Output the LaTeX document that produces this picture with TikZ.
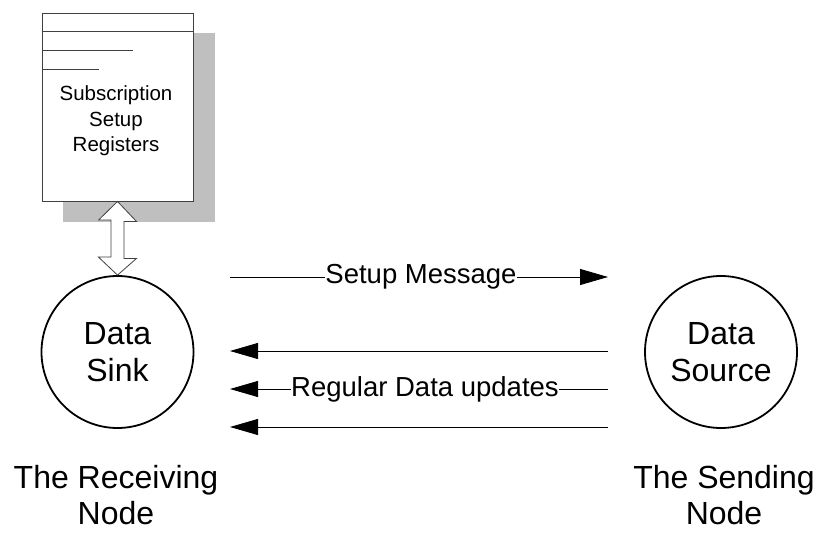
\documentclass[tikz,border=0pt]{standalone}
\usepackage{fontspec}
\setmainfont{Liberation Sans}
\usetikzlibrary{arrows.meta,calc}
\tikzset{
  regbox/.style={draw=black!75, line width=0.9pt, fill=white, minimum width=151pt, minimum height=188pt, inner sep=0pt},
  shadowbox/.style={fill=black!25, draw=none},
  endpoint/.style={draw, line width=1.8pt, circle, minimum size=152pt, inner sep=0pt, align=center, font=\fontsize{32}{37}\selectfont},
  caption/.style={align=center, inner sep=0pt, font=\fontsize{32}{36}\selectfont},
  msg/.style={line width=0.9pt, -{Triangle[length=28pt,width=16pt]}},
  msglabel/.style={fill=white, inner sep=0.5pt, font=\fontsize{27.5}{30}\selectfont},
  dblarrow/.style={draw=black!75, line width=0.8pt, fill=white}
}
\begin{document}
\begin{tikzpicture}[x=1pt,y=-1pt]
\useasboundingbox (0,0) rectangle (818,534);
% shadow
\fill[shadowbox] (63,33) rectangle (215,222);
% register box
\node[regbox] (reg) at (117.5,107) {};
\draw[draw=black!75, line width=0.9pt] (reg.north west) ++(0,19) -- ++(151,0);
\draw[draw=black!75, line width=0.9pt] (reg.north west) ++(0,38) -- ++(91,0);
\draw[draw=black!75, line width=0.9pt] (reg.north west) ++(0,57) -- ++(57,0);
\node[align=center, font=\fontsize{20.5}{25.5}\selectfont] (regtext) at (116,121) {Subscription\\Setup\\Registers};
% circles
\node[endpoint] (sink) at (117.5,352) {Data\\Sink};
\node[endpoint] (source) at (721,352) {Data\\Source};
% captions
\node[caption] (reccap) at (116,495) {The Receiving\\Node};
\node[caption] (sendcap) at (724,495) {The Sending\\Node};
% double arrow between register box and sink
\draw[dblarrow] (reg.south) -- ++(19,20) -- ++(-12.5,0) -- ++(0,37) -- ++(12.5,0) -- (sink.north)
  -- ++(-19,-18) -- ++(12.5,0) -- ++(0,-37) -- ++(-12.5,0) -- cycle;
% message arrows
\coordinate (m1a) at (230,277);
\coordinate (m1b) at (608,277);
\coordinate (m2a) at (608,351);
\coordinate (m2b) at (230,351);
\coordinate (m3a) at (608,389);
\coordinate (m3b) at (230,389);
\coordinate (m4a) at (608,427);
\coordinate (m4b) at (230,427);
\draw[msg] (m1a) -- node[msglabel, xshift=2pt] (setuplbl) {Setup Message} (m1b);
\draw[msg] (m2a) -- (m2b);
\draw[msg] (m3a) -- node[msglabel, xshift=6pt] (updlbl) {Regular Data updates} (m3b);
\draw[msg] (m4a) -- (m4b);
\end{tikzpicture}
\end{document}
